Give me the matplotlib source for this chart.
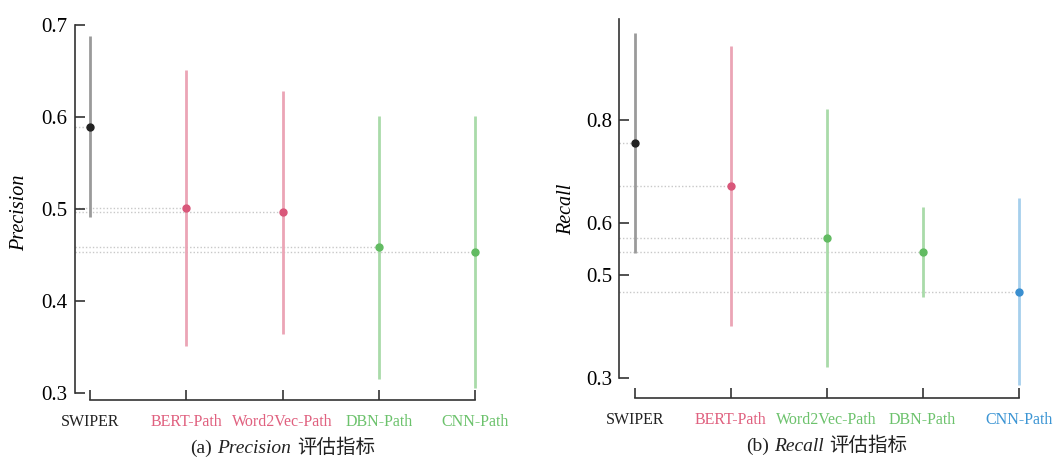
import matplotlib
matplotlib.use("Agg")
import matplotlib.pyplot as plt
from matplotlib.offsetbox import TextArea, HPacker, AnnotationBbox

models = ["SWIPER", "BERT-Path", "Word2Vec-Path", "DBN-Path", "CNN-Path"]

prec_mean = [0.590, 0.501, 0.497, 0.459, 0.454]
prec_low = [0.492, 0.351, 0.365, 0.316, 0.306]
prec_high = [0.688, 0.651, 0.629, 0.601, 0.602]

rec_mean = [0.755, 0.672, 0.571, 0.543, 0.467]
rec_low = [0.541, 0.400, 0.320, 0.456, 0.286]
rec_high = [0.969, 0.944, 0.822, 0.631, 0.649]

prec_colors = ["#222222", "#d9577a", "#d9577a", "#62bb62", "#62bb62"]
rec_colors = ["#222222", "#d9577a", "#62bb62", "#62bb62", "#3a8fd0"]
line_colors_p = ["#9a9a9a", "#eba5b6", "#eba5b6", "#a9dba9", "#a9dba9"]
line_colors_r = ["#9a9a9a", "#eba5b6", "#a9dba9", "#a9dba9", "#a6cfec"]
label_colors_p = ["#222222", "#e0607f", "#e0607f", "#6cc26c", "#6cc26c"]
label_colors_r = ["#222222", "#e0607f", "#6cc26c", "#6cc26c", "#3c95d4"]

prec_ticks = [0.3, 0.4, 0.5, 0.6, 0.7]
rec_ticks = [0.3, 0.5, 0.6, 0.8]

FAM = ['Liberation Serif', 'Noto Sans CJK SC']
plt.rcParams['font.family'] = FAM

fig = plt.figure(figsize=(10.61, 4.58), dpi=100)
ax1 = fig.add_axes([0.0704, 0.1266, 0.392, 0.818])
ax2 = fig.add_axes([0.5837, 0.1303, 0.3909, 0.8275])


def caption(ax, prefix, metric, suffix):
    tp = dict(fontsize=14, color="#222222", family=FAM)
    parts = [TextArea(prefix, textprops=tp),
             TextArea(metric, textprops=dict(tp, fontstyle='italic')),
             TextArea(suffix, textprops=tp)]
    box = HPacker(children=parts, align="baseline", pad=0, sep=4)
    ab = AnnotationBbox(box, (0.5, 0), xycoords='axes fraction',
                        xybox=(0, -34.5), boxcoords='offset points',
                        box_alignment=(0.5, 0.5), frameon=False, pad=0)
    ax.add_artist(ab)


def draw(ax, mean, low, high, pcolors, lcolors, labcolors, ticks, ylim, spine_top,
         ylabel, cap, labelpad):
    x = list(range(len(models)))
    xmin = -0.16
    for i in x:
        ax.plot([xmin, i], [mean[i], mean[i]], linestyle=(0, (1, 1.5)), color="#c8c8c8",
                lw=1.0, zorder=1)
    for i in x:
        ax.plot([i, i], [low[i], high[i]], color=lcolors[i], lw=2.0, zorder=2,
                solid_capstyle='butt')
        ax.plot(i, mean[i], 'o', color=pcolors[i], ms=5, zorder=3)
    ax.set_xlim(xmin, 4.16)
    ax.set_ylim(*ylim)
    ax.set_yticks(ticks)
    ax.set_yticklabels([f"{t:.1f}" for t in ticks], fontsize=15)
    ax.set_xticks(x)
    ax.set_xticklabels(models, fontsize=11.5)
    for t, c in zip(ax.get_xticklabels(), labcolors):
        t.set_color(c)
    ax.tick_params(axis='both', direction='in', length=7, width=1.2, color="#333333")
    ax.tick_params(axis='x', pad=10)
    ax.tick_params(axis='y', pad=5)
    for s in ['top', 'right']:
        ax.spines[s].set_visible(False)
    ax.spines['left'].set_bounds(0.3, spine_top)
    ax.spines['bottom'].set_bounds(0, 4)
    for s in ['left', 'bottom']:
        ax.spines[s].set_linewidth(1.2)
        ax.spines[s].set_color("#333333")
    ax.set_ylabel(ylabel, fontsize=14.5, style='italic', labelpad=labelpad)
    caption(ax, *cap)


draw(ax1, prec_mean, prec_low, prec_high, prec_colors, line_colors_p, label_colors_p,
     prec_ticks, (0.2927, 0.7), 0.7, "Precision", ("(a)", "Precision", "评估指标"), 9)
draw(ax2, rec_mean, rec_low, rec_high, rec_colors, line_colors_r, label_colors_r,
     rec_ticks, (0.26, 0.995), 0.995, "Recall", ("(b)", "Recall", "评估指标"), 7)

fig.savefig("out.png", dpi=100)
